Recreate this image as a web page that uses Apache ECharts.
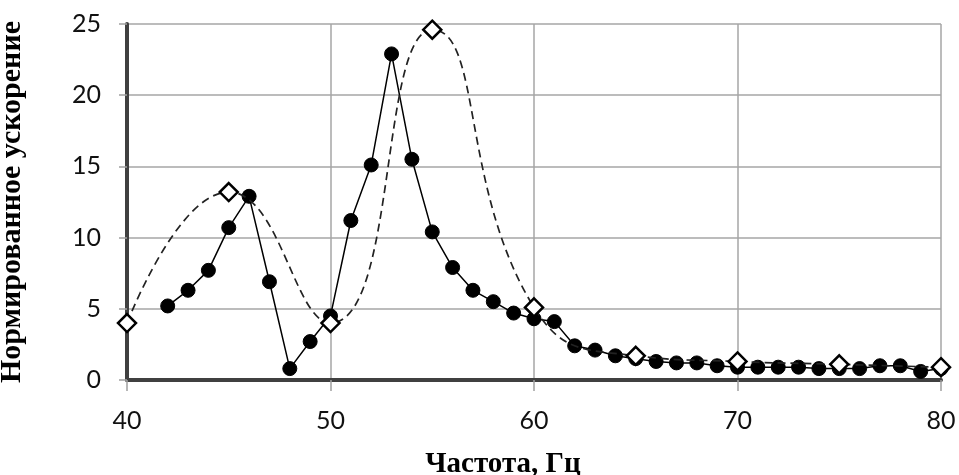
<!DOCTYPE html>
<html>
<head>
<meta charset="utf-8">
<script src="https://cdn.jsdelivr.net/npm/echarts@6/dist/echarts.min.js"></script>
<style>
html,body{margin:0;padding:0;background:#fff;}
#chart{width:959px;height:475px;}
</style>
</head>
<body>
<div id="chart"></div>
<script>
// Measured (filled circles, solid line)
const measFreq = [42,43,44,45,46,47,48,49,50,51,52,53,54,55,56,57,58,59,60,61,62,63,64,65,66,67,68,69,70,71,72,73,74,75,76,77,78,79,80];
const measVals = [5.2,6.3,7.7,10.7,12.9,6.9,0.8,2.7,4.5,11.2,15.1,22.9,15.5,10.4,7.9,6.3,5.5,4.7,4.3,4.1,2.4,2.1,1.7,1.5,1.3,1.2,1.2,1.0,0.9,0.9,0.9,0.9,0.8,0.8,0.8,1.0,1.0,0.6,0.8];
// Calculated (open diamonds, dashed smooth line)
const calcFreq = [40,45,50,55,60,65,70,75,80];
const calcVals = [4.0,13.2,4.0,24.6,5.1,1.7,1.3,1.1,0.9];

const xTitle = 'Частота, Гц';
const yTitle = 'Нормированное ускорение';

const measData = measFreq.map((f,i)=>[f, measVals[i]]);
const calcData = calcFreq.map((f,i)=>[f, calcVals[i]]);

const chart = echarts.init(document.getElementById('chart'), null, {renderer:'canvas'});
chart.setOption({
  animation:false,
  backgroundColor:'#fff',
  grid:{left:127, right:18, top:24, bottom:95, containLabel:false, outerBoundsMode:'none'},
  xAxis:{
    type:'value', min:40, max:80, interval:10,
    name:xTitle, nameLocation:'middle', nameGap:70,
    nameTextStyle:{fontFamily:'Liberation Serif', fontWeight:'bold', fontSize:29, color:'#000', padding:[0,62,0,0]},
    axisLine:{show:true, onZero:false, lineStyle:{color:'#404040', width:4}},
    axisTick:{show:true, length:11, lineStyle:{color:'#a0a0a0', width:1.5}},
    axisLabel:{margin:28, fontFamily:'Lato', fontSize:25, color:'#111'},
    splitLine:{show:true, lineStyle:{color:'#a6a6a6', width:1.5}}
  },
  yAxis:{
    type:'value', min:0, max:25, interval:5,
    name:yTitle, nameLocation:'middle', nameGap:100, nameRotate:90,
    nameTextStyle:{fontFamily:'Liberation Serif', fontWeight:'bold', fontSize:30, color:'#000'},
    axisLine:{show:true, onZero:false, lineStyle:{color:'#404040', width:4}},
    axisTick:{show:true, length:8, lineStyle:{color:'#a0a0a0', width:1.5}},
    axisLabel:{margin:26, fontFamily:'Lato', fontSize:25, color:'#111'},
    splitLine:{show:true, lineStyle:{color:'#a6a6a6', width:1.5}}
  },
  series:[
    {
      type:'line', data:measData, smooth:false,
      symbol:'circle', symbolSize:14,
      itemStyle:{color:'#000', borderColor:'#000'},
      lineStyle:{color:'#000', width:1.5},
      z:3
    },
    {
      type:'line', data:calcData, smooth:0.5,
      symbol:'diamond', symbolSize:[18,18],
      itemStyle:{color:'#fff', borderColor:'#000', borderWidth:2.5},
      lineStyle:{color:'#222', width:1.7, type:[8,5]},
      z:4
    }
  ]
});
</script>
</body>
</html>
